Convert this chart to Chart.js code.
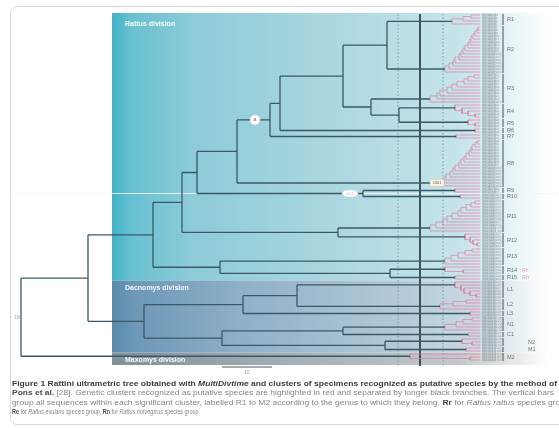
<!DOCTYPE html>
<html>
<head>
<meta charset="utf-8">
<script src="https://cdn.jsdelivr.net/npm/chart.js@4.4.1/dist/chart.umd.min.js"></script>
<style>
html, body { margin: 0; padding: 0; background: #fff; overflow: hidden; }
#wrap { width: 559px; height: 428px; position: relative; }
</style>
</head>
<body>
<div id="wrap"><canvas id="chart"></canvas></div>
<script>
// clusters of specimens, top to bottom
var clusterNames = ['R1','R2','R3','R4','R5','R6','R7','R8','R9','R10','R11','R12','R13','R14','R15','L1','L2','L3','N1','C1','N2','M1','M2'];
var clusterTips  = [4,16,10,5,3,2,2,16,2,2,11,5,6,3,2,6,4,2,5,2,3,2,3];
// crown depth first, then the inner nodes of each cluster
var clusterNodes = [
	[452,463,471],
	[445,449,453,455,459,461,463,465,468,470,471,473,475,477,478],
	[430,437,440,447,452,457,464,468,474],
	[455,462,468,475],
	[468,475],
	[475],
	[456],
	[440,444,446,450,453,455,459,461,464,466,469,471,472,475,477],
	[455],
	[460],
	[430,436,443,447,452,458,461,466,471,475],
	[465,470,473,477],
	[445,451,458,465,472],
	[445,463],
	[455],
	[455,461,464,470,476],
	[440,453,466],
	[470],
	[445,456,463,472],
	[468],
	[462,472],
	[466],
	[410,470]
];
var clusterFlip = [1,1,1,0,0,0,0,1,0,0,1,0,1,0,0,0,1,0,1,0,0,0,0];
var clusterTags = { R14: 'Rr', R15: 'Rn' };
var sideLabels = ['N2','M1'];

// backbone nodes: name, depth, upper child, lower child
var backbone = [
	['root', 21, 'N88', 'M2'],
	['N88', 88, 'N153', 'N144'],
	['N153', 153, 'N182', 'N220'],
	['N182', 182, 'N197', 'N338'],
	['N197', 197, 'N237', 'N363'],
	['N237', 237, 'N270', 'R8'],
	['N270', 270, 'N280', 'R7'],
	['N280', 280, 'N343', 'R6'],
	['N343', 343, 'N387', 'N371'],
	['N387', 387, 'R1', 'R2'],
	['N371', 371, 'R3', 'N400'],
	['N400', 399, 'R4', 'R5'],
	['N363', 363, 'R9', 'R10'],
	['N338', 338, 'R11', 'R12'],
	['N220', 220, 'R13', 'N390'],
	['N390', 390, 'R14', 'R15'],
	['N144', 144, 'N243', 'N222'],
	['N243', 243, 'N297', 'L3'],
	['N297', 297, 'L1', 'L2'],
	['N222', 222, 'N343b', 'N385'],
	['N343b', 343, 'N1', 'C1'],
	['N385', 385, 'N2', 'M1']
];
var rootSupport = '100';

var divisionNames = ['Rattus division', 'Dacnomys division', 'Maxomys division'];
var divisionFirst = ['R1', 'L1', 'M2'];
var divisionLast  = ['R15', 'M1', 'M2'];

var timeLines = [398, 420, 443];
var timeDashed = [true, false, true];
var scaleBarStart = 222, scaleBarLength = 50, scaleBarText = '10';

var markNodes = ['N270', 'N363', 'R8'];
var markX = [255, 350, 437];
var markText = ['a', '<0.1', '3461'];

var captionLines = [
	[['b','Figure 1 Rattini ultrametric tree obtained with '],['bi','MultiDivtime'],['b',' and clusters of specimens recognized as putative species by the method of']],
	[['b','Pons et al.'],['r',' [28]. Genetic clusters recognized as putative species are highlighted in red and separated by longer black branches. The vertical bars']],
	[['r','group all sequences within each significant cluster, labelled R1 to M2 according to the genus to which they belong. '],['b','Rr'],['r',' for '],['i','Rattus rattus'],['r',' species group,']],
	[['b','Re'],['r',' for '],['i','Rattus exulans'],['r',' species group, '],['b','Rn'],['r',' for '],['i','Rattus norvegicus'],['r',' species group.']]
];
var captionEnds = [557, 554, 572, 200];
var captionY = [384, 393.5, 403, 412.5];

// ---- layout of the tree ----
var TIP_X = 480, TIP_TOP = 15, TIP_BOTTOM = 360;
var clusterFirst = [];
var nTips = 0;
for (var i = 0; i < clusterTips.length; i++) { clusterFirst.push(nTips); nTips += clusterTips[i]; }
var step = (TIP_BOTTOM - TIP_TOP) / (nTips - 1);
function tipY(k) { return TIP_TOP + k * step; }

var backLines = [], pinkLines = [];
function seg(arr, x1, y1, x2, y2) {
	arr.push({x: x1, y: y1}, {x: x2, y: y2}, {x: null, y: null});
}

var nodePos = {};
clusterNames.forEach(function(name, c){
	var tips = [];
	for (var k = 0; k < clusterTips[c]; k++) tips.push(tipY(clusterFirst[c] + k));
	if (clusterFlip[c]) tips.reverse();
	var depths = clusterNodes[c];
	function build(list, d){
		if (list.length === 1) return {x: TIP_X, y: list[0]};
		var a = {x: TIP_X, y: list[0]};
		var b = build(list.slice(1), d + 1);
		var x = depths[d];
		seg(pinkLines, x, a.y, x, b.y);
		seg(pinkLines, x, a.y, a.x, a.y);
		seg(pinkLines, x, b.y, b.x, b.y);
		return {x: x, y: (a.y + b.y) / 2};
	}
	nodePos[name] = build(tips, 0);
});

var nodeDef = {};
backbone.forEach(function(b){ nodeDef[b[0]] = b; });
function place(name){
	if (nodePos[name]) return nodePos[name];
	var b = nodeDef[name];
	var a = place(b[2]), c = place(b[3]);
	var p = {x: b[1], y: (a.y + c.y) / 2};
	seg(backLines, p.x, a.y, p.x, c.y);
	seg(backLines, p.x, a.y, a.x, a.y);
	seg(backLines, p.x, c.y, c.x, c.y);
	nodePos[name] = p;
	return p;
}
place('root');

var barLines = [];
clusterNames.forEach(function(name, c){
	var y0 = tipY(clusterFirst[c]) - 1, y1 = tipY(clusterFirst[c] + clusterTips[c] - 1) + 1;
	seg(barLines, 503, y0, 503, y1);
});

var panelTop = TIP_TOP - 2, panelBottom = TIP_BOTTOM + 5;
var datasets = [
	{ data: backLines, borderColor: '#3b5867', borderWidth: 1.3 },
	{ data: pinkLines, borderColor: '#e27d9d', borderWidth: 0.7 },
	{ data: barLines, borderColor: '#55605f', borderWidth: 1.1 },
	{ data: [{x: scaleBarStart, y: 367}, {x: scaleBarStart + scaleBarLength, y: 367}], borderColor: '#555', borderWidth: 1 }
];
timeLines.forEach(function(t, i){
	datasets.push({
		data: [{x: t, y: panelTop + 1}, {x: t, y: panelBottom + 1}],
		borderColor: timeDashed[i] ? '#6f8c96' : '#2f3f47',
		borderWidth: timeDashed[i] ? 0.8 : 1,
		borderDash: timeDashed[i] ? [1.5, 2] : []
	});
});
datasets.forEach(function(d){
	d.showLine = true; d.pointRadius = 0; d.spanGaps = false; d.fill = false; d.tension = 0;
});

function divisionBounds(i){
	var c0 = clusterNames.indexOf(divisionFirst[i]), c1 = clusterNames.indexOf(divisionLast[i]);
	var first = clusterFirst[c0], last = clusterFirst[c1] + clusterTips[c1] - 1;
	var top = i === 0 ? panelTop : (tipY(first) + tipY(first - 1)) / 2;
	var bottom = i === divisionNames.length - 1 ? panelBottom : (tipY(last) + tipY(last + 1)) / 2;
	return [top, bottom];
}

var panelColors = [
	[['0', '#3fb2c7'], ['0.04', '#66c0d0'], ['0.18', '#8ccbd7'], ['0.5', '#abd7e1'], ['0.8', '#c6e4ea'], ['0.9', '#e2f1f4'], ['1', '#ffffff']],
	[['0', '#5889ab'], ['0.05', '#6d98b7'], ['0.3', '#8fb0c8'], ['0.65', '#b2c9d8'], ['0.85', '#ccdbe4'], ['0.93', '#e9f0f3'], ['1', '#ffffff']],
	[['0', '#7f9099'], ['0.3', '#9aa8ae'], ['0.8', '#c2cacd'], ['0.93', '#e6e9ea'], ['1', '#ffffff']]
];

var treePlugin = {
	id: 'tree',
	beforeDatasetsDraw: function(chart){
		var ctx = chart.ctx, xs = chart.scales.x, ys = chart.scales.y;
		ctx.save();
		// frame
		ctx.strokeStyle = '#d8d8d8';
		ctx.lineWidth = 1;
		ctx.beginPath();
		ctx.roundRect(10.5, 6.5, 600, 418, 7);
		ctx.stroke();
		// division panels
		var left = xs.getPixelForValue(112), right = xs.getPixelForValue(548);
		divisionNames.forEach(function(d, i){
			var b = divisionBounds(i);
			var g = ctx.createLinearGradient(left, 0, right, 0);
			panelColors[i].forEach(function(s){ g.addColorStop(parseFloat(s[0]), s[1]); });
			ctx.fillStyle = g;
			var t = ys.getPixelForValue(b[0]), bt = ys.getPixelForValue(b[1]);
			ctx.fillRect(left, t, right - left, bt - t);
		});
		// faint scan line
		ctx.strokeStyle = 'rgba(238,246,248,0.85)';
		ctx.beginPath();
		ctx.moveTo(10, 193.5); ctx.lineTo(559, 193.5);
		ctx.stroke();
		// grey column of specimen names
		ctx.fillStyle = 'rgba(150,160,163,0.35)';
		ctx.fillRect(482, ys.getPixelForValue(TIP_TOP - 1.5), 14, ys.getPixelForValue(TIP_BOTTOM + 1.5) - ys.getPixelForValue(TIP_TOP - 1.5));
		ctx.restore();
	},
	afterDatasetsDraw: function(chart){
		var ctx = chart.ctx, xs = chart.scales.x, ys = chart.scales.y;
		ctx.save();
		ctx.textBaseline = 'middle';
		// specimen names
		ctx.font = '3px "DejaVu Sans", sans-serif';
		ctx.fillStyle = '#8d979a';
		clusterNames.forEach(function(name, c){
			for (var k = 0; k < clusterTips[c]; k++) {
				ctx.fillText(name + ' sp' + (k + 1) + ' 0' + (c * 7 + k), 482.5, ys.getPixelForValue(tipY(clusterFirst[c] + k)));
			}
		});
		// cluster labels
		ctx.font = '5.5px "Liberation Sans", Arial, sans-serif';
		clusterNames.forEach(function(name, c){
			var y = ys.getPixelForValue((tipY(clusterFirst[c]) + tipY(clusterFirst[c] + clusterTips[c] - 1)) / 2);
			var side = sideLabels.indexOf(name) >= 0;
			ctx.fillStyle = '#6e7474';
			ctx.fillText(name, side ? 528 : 507, y);
			if (clusterTags[name]) {
				ctx.fillStyle = '#ec93ad';
				ctx.fillText(clusterTags[name], 522, y);
			}
		});
		// division titles
		ctx.fillStyle = 'rgba(255,255,255,0.92)';
		ctx.font = 'bold 7px "Liberation Sans", Arial, sans-serif';
		divisionNames.forEach(function(d, i){
			var b = divisionBounds(i);
			var y = i === 0 ? ys.getPixelForValue(b[0]) + 11 : (i === 2 ? (ys.getPixelForValue(b[0]) + ys.getPixelForValue(b[1])) / 2 + 1 : ys.getPixelForValue(b[0]) + 8);
			ctx.fillText(d, xs.getPixelForValue(125), y);
		});
		// support marks on branches
		markNodes.forEach(function(n, i){
			var x = xs.getPixelForValue(markX[i]), y = ys.getPixelForValue(nodePos[n].y);
			ctx.lineWidth = 0.6;
			if (i === 0) {
				ctx.fillStyle = '#fff'; ctx.strokeStyle = '#c9d6da';
				ctx.beginPath(); ctx.arc(x, y, 5, 0, Math.PI * 2); ctx.fill(); ctx.stroke();
				ctx.fillStyle = '#8a8a8a'; ctx.font = 'bold 5px "Liberation Sans", sans-serif';
				ctx.textAlign = 'center'; ctx.fillText(markText[i], x, y);
			} else if (i === 1) {
				ctx.fillStyle = '#fff'; ctx.strokeStyle = '#d7e2e5';
				ctx.beginPath(); ctx.ellipse(x, y, 8, 3.5, 0, 0, Math.PI * 2); ctx.fill(); ctx.stroke();
				ctx.fillStyle = '#e59ab0'; ctx.font = '4px "Liberation Sans", sans-serif';
				ctx.textAlign = 'center'; ctx.fillText(markText[i], x, y);
			} else {
				ctx.fillStyle = '#fbf4e4'; ctx.strokeStyle = '#d6c79f';
				ctx.fillRect(x - 7, y - 3.5, 14, 7); ctx.strokeRect(x - 7, y - 3.5, 14, 7);
				ctx.fillStyle = '#6b5e44'; ctx.font = '4px "Liberation Sans", sans-serif';
				ctx.textAlign = 'center'; ctx.fillText(markText[i], x, y);
			}
			ctx.textAlign = 'left';
		});
		// root support
		ctx.fillStyle = '#9a9a9a';
		ctx.font = '4.5px "Liberation Sans", sans-serif';
		ctx.textAlign = 'center';
		ctx.fillText(rootSupport, xs.getPixelForValue(18), ys.getPixelForValue(nodePos.root.y) + 1);
		// scale bar label
		ctx.fillText(scaleBarText, xs.getPixelForValue(scaleBarStart + scaleBarLength / 2), ys.getPixelForValue(373));
		ctx.textAlign = 'left';
		// caption
		var fonts = { b: 'bold ', bi: 'italic bold ', i: 'italic ', r: '' };
		var fam = '7px "Liberation Sans", Arial, sans-serif';
		captionLines.forEach(function(line, li){
			var total = 0;
			line.forEach(function(s){ ctx.font = fonts[s[0]] + fam; total += ctx.measureText(s[1]).width; });
			var f = (captionEnds[li] - 12) / total;
			ctx.save();
			ctx.translate(12, captionY[li]);
			ctx.scale(f, 1);
			var x = 0;
			line.forEach(function(s){
				ctx.font = fonts[s[0]] + fam;
				ctx.fillStyle = li === 0 ? '#3c3c3c' : (s[0] === 'b' ? '#4a4a4a' : '#858585');
				ctx.fillText(s[1], x, 0);
				x += ctx.measureText(s[1]).width;
			});
			ctx.restore();
		});
		ctx.restore();
	}
};

var ctx = document.getElementById('chart');
new Chart(ctx, {
	type: 'scatter',
	data: { datasets: datasets },
	options: {
		responsive: true,
		maintainAspectRatio: false,
		animation: false,
		events: [],
		layout: { padding: 0 },
		plugins: { legend: { display: false }, tooltip: { enabled: false } },
		scales: {
			x: { type: 'linear', min: 0, max: 559, display: false },
			y: { type: 'linear', min: 0, max: 428, reverse: true, display: false }
		}
	},
	plugins: [treePlugin]
});
</script>
</body>
</html>
